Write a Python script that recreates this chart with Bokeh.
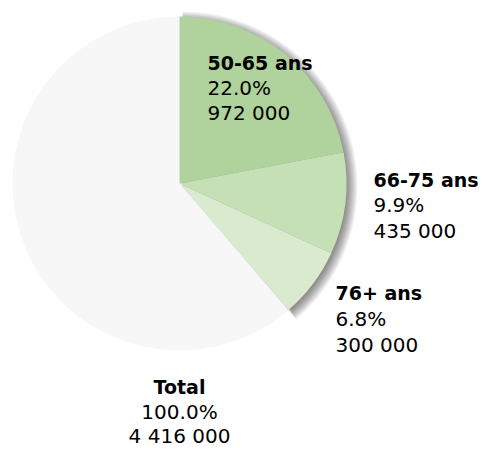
import math
from bokeh.plotting import figure
from bokeh.core.properties import value
from bokeh.embed import file_html
from bokeh.resources import INLINE

# ---- data ----
categories = ["50-65 ans", "66-75 ans", "76+ ans"]
values = [972000, 435000, 300000]
total_label = "Total"
total_value = 4416000
colors = ["#b0d29c", "#c5e0b4", "#d9eacf"]
rest_color = "#f7f7f7"

# ---- layout (pixels, plot space with y up) ----
W, H = 482, 450
cx, cy, r = 179, 267, 167
label_pos = [(207, 388, 25), (373, 271, 25.5), (335, 157.5, 26)]   # (x, first baseline y, step)
total_pos = (179, 63.5, 24.5)

p = figure(width=W, height=H, x_range=(0, W), y_range=(0, H),
           toolbar_location=None, output_backend="svg", min_border=0)
p.axis.visible = False
p.grid.visible = False
p.outline_line_color = None
p.background_fill_color = "white"
p.border_fill_color = "white"

fracs = [v / total_value for v in values]
starts, ends = [], []
a = math.pi / 2
for f in fracs:
    starts.append(a)
    a -= 2 * math.pi * f
    ends.append(a)
colored_end = a

# rest (grey) slice
p.wedge(x=cx, y=cy, radius=r, start_angle=colored_end, end_angle=math.pi / 2 - 2 * math.pi,
        direction="clock", fill_color=rest_color, line_color=None)

# soft shadow under coloured slices
for k in range(12):
    p.wedge(x=cx + 3, y=cy - 3, radius=r - 3 + k, start_angle=math.pi / 2,
            end_angle=colored_end + 0.01 - 0.0015 * k, direction="clock",
            fill_color="black", fill_alpha=0.048, line_color=None)

# coloured slices
p.wedge(x=[cx] * len(values), y=[cy] * len(values), radius=r,
        start_angle=starts, end_angle=ends, direction="clock",
        fill_color=colors, line_color=None)

font = value("DejaVu Sans")

def put_label(x, y, step, name, pct, num, align):
    p.text(x=[x], y=[y], text=[name], text_font=font, text_font_size="19px",
           text_font_style="bold", text_color="black", text_align=align,
           text_baseline="alphabetic")
    p.text(x=[x, x], y=[y - step, y - 2 * step], text=[pct, num],
           text_font=font, text_font_size="20px", text_color="black",
           text_align=align, text_baseline="alphabetic")

def fmt(v):
    return f"{v:,}".replace(",", " ")

for (lx, ly, st), name, v in zip(label_pos, categories, values):
    put_label(lx, ly, st, name, f"{100 * v / total_value:.1f}%", fmt(v), "left")

put_label(total_pos[0], total_pos[1], total_pos[2], total_label, "100.0%", fmt(total_value), "center")

open("out.html", "w").write(file_html(p, INLINE))
